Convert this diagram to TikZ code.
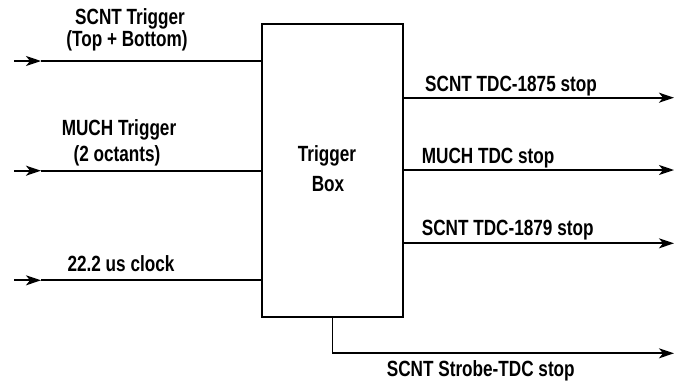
\documentclass[tikz,border=0pt]{standalone}
\usepackage{fontspec}
\newfontfamily\lbl[FakeStretch=0.78]{Liberation Sans}
\usetikzlibrary{arrows.meta}
\begin{document}
\begin{tikzpicture}[x=1pt,y=-1pt,
  wire/.style={line width=1.8pt},
  arr/.style={wire,-{Stealth[length=15pt,width=10pt,inset=4pt]}},
  boxst/.style={draw,line width=1.8pt,minimum width=141pt,minimum height=293pt,inner sep=0pt},
  txt/.style={inner sep=0pt,font=\lbl\bfseries\fontsize{22}{26}\selectfont},
  ctxt/.style={txt,anchor=base},
  ltxt/.style={txt,anchor=base west}]
\useasboundingbox (0,0) rectangle (675,384);
% box
\node[boxst] (box) at (332.5,170.5) {};
\node[ctxt] (bt1) at (327,161.7) {Trigger};
\node[ctxt] (bt2) at (328,191.7) {Box};
% inputs
\coordinate (in1) at (14,61);
\coordinate (m1) at (41,61);
\coordinate (in2) at (14,170.7);
\coordinate (m2) at (41,170.7);
\coordinate (in3) at (14,280.3);
\coordinate (m3) at (41,280.3);
\draw[arr] (in1) -- (m1);
\draw[wire] (m1) -- (box.west |- m1);
\draw[arr] (in2) -- (m2);
\draw[wire] (m2) -- (box.west |- m2);
\draw[arr] (in3) -- (m3);
\draw[wire] (m3) -- (box.west |- m3);
\node[ctxt] (l1a) at (130,24) {SCNT Trigger};
\node[ctxt] (l1b) at (127,46) {(Top + Bottom)};
\node[ctxt] (l2a) at (119,135) {MUCH Trigger};
\node[ctxt] (l2b) at (117,161.7) {(2 octants)};
\node[ctxt] (l3) at (121,271.7) {22.2 us clock};
% outputs
\coordinate (o1) at (674,97.7);
\coordinate (o2) at (674,170);
\coordinate (o3) at (674,243.3);
\coordinate (o4) at (674,353.3);
\coordinate (bend) at (332.5,353.3);
\draw[arr] (box.east |- o1) -- (o1);
\draw[arr] (box.east |- o2) -- (o2);
\draw[arr] (box.east |- o3) -- (o3);
\draw[arr] (box.south) -- (bend) -- (o4);
\node[ltxt] (r1) at (425,91.7) {SCNT TDC-1875 stop};
\node[ltxt] (r2) at (421.7,163) {MUCH TDC stop};
\node[ltxt] (r3) at (421.7,235.5) {SCNT TDC-1879 stop};
\node[ltxt] (r4) at (386.7,376.7) {SCNT Strobe-TDC stop};
\end{tikzpicture}
\end{document}
